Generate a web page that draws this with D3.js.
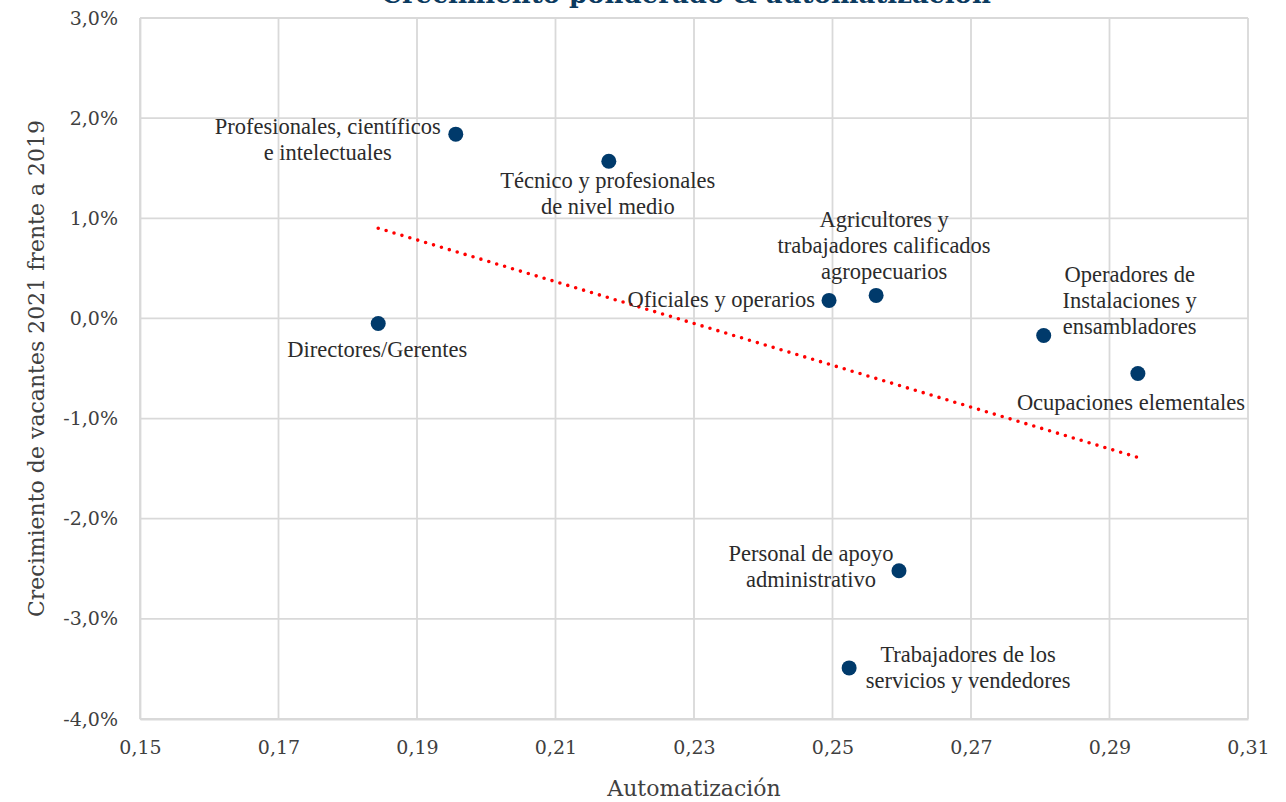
<!DOCTYPE html>
<html>
<head>
<meta charset="utf-8">
<script src="https://cdn.jsdelivr.net/npm/d3@7"></script>
<style>
  html, body { margin: 0; padding: 0; background: #fff; }
  svg { display: block; }
</style>
</head>
<body>
<svg id="chart" width="1286" height="802"></svg>
<script>
// Occupational groups: automation exposure vs. growth of job vacancies 2021 vs 2019
const categories = [
  "Directores/Gerentes",
  "Profesionales, científicos e intelectuales",
  "Técnico y profesionales de nivel medio",
  "Oficiales y operarios",
  "Agricultores y trabajadores calificados agropecuarios",
  "Operadores de Instalaciones y ensambladores",
  "Ocupaciones elementales",
  "Personal de apoyo administrativo",
  "Trabajadores de los servicios y vendedores"
];
const automatizacion = [0.1844, 0.1956, 0.2177, 0.2495, 0.2563, 0.2805, 0.2941, 0.2596, 0.2524];
const crecimiento    = [-0.0005, 0.0184, 0.0157, 0.0018, 0.0023, -0.0017, -0.0055, -0.0252, -0.0349];

const xTicks = [0.15, 0.17, 0.19, 0.21, 0.23, 0.25, 0.27, 0.29, 0.31];
const yTicks = [-0.04, -0.03, -0.02, -0.01, 0, 0.01, 0.02, 0.03];

// Label text lines and placement relative to each marker (px)
const labelLines = [
  ["Directores/Gerentes"],
  ["Profesionales, científicos", "e intelectuales"],
  ["Técnico y profesionales", "de nivel medio"],
  ["Oficiales y operarios"],
  ["Agricultores y", "trabajadores calificados", "agropecuarios"],
  ["Operadores de", "Instalaciones y", "ensambladores"],
  ["Ocupaciones elementales"],
  ["Personal de apoyo", "administrativo"],
  ["Trabajadores de los", "servicios y vendedores"]
];
const labelLayout = [
  { anchor: "middle", dx: -1,   dy: 34 },
  { anchor: "middle", dx: -128, dy: 0 },
  { anchor: "middle", dx: -1,   dy: 27 },
  { anchor: "end",    dx: -14,  dy: 7 },
  { anchor: "middle", dx: 8,    dy: -68 },
  { anchor: "middle", dx: 86,   dy: -53 },
  { anchor: "middle", dx: -7,   dy: 36 },
  { anchor: "middle", dx: -88,  dy: -10 },
  { anchor: "middle", dx: 119,  dy: -6 }
];

const svg = d3.select("#chart");
const margin = { left: 140, right: 1286 - 1248, top: 18, bottom: 802 - 719 };
const W = 1286, H = 802;

const x = d3.scaleLinear().domain([0.15, 0.31]).range([margin.left, W - margin.right]);
const y = d3.scaleLinear().domain([-0.04, 0.03]).range([H - margin.bottom, margin.top]);

const fmtX = v => d3.format(".2f")(v).replace(".", ",");
const fmtY = v => d3.format(".1f")(v * 100).replace(".", ",").replace("−", "-") + "%";

const gridColor = "#d9d9d9";
const axisFont = "'DejaVu Serif', Cambria, serif";
const labelFont = "'Liberation Serif', 'Times New Roman', serif";

// Gridlines
svg.append("g")
  .selectAll("line.vg")
  .data(xTicks)
  .join("line")
  .attr("x1", d => x(d)).attr("x2", d => x(d))
  .attr("y1", y(0.03)).attr("y2", y(-0.04))
  .attr("stroke", gridColor).attr("stroke-width", 1.8);

svg.append("g")
  .selectAll("line.hg")
  .data(yTicks)
  .join("line")
  .attr("x1", x(0.15)).attr("x2", x(0.31))
  .attr("y1", d => y(d)).attr("y2", d => y(d))
  .attr("stroke", gridColor).attr("stroke-width", 1.8);

// Axes (labels only; lines drawn via gridlines)
const xAxis = svg.append("g")
  .attr("transform", `translate(0,${y(-0.04)})`)
  .call(d3.axisBottom(x).tickValues(xTicks).tickFormat(fmtX).tickSize(0).tickPadding(22));
const yAxis = svg.append("g")
  .attr("transform", `translate(${x(0.15)},0)`)
  .call(d3.axisLeft(y).tickValues(yTicks).tickFormat(fmtY).tickSize(0).tickPadding(22));
[xAxis, yAxis].forEach(g => {
  g.select(".domain").attr("stroke", gridColor).attr("stroke-width", 1.8);
  g.selectAll("text")
    .attr("font-family", axisFont)
    .attr("font-size", 19)
    .attr("fill", "#404040");
});

// Axis titles
svg.append("text")
  .attr("x", (x(0.15) + x(0.31)) / 2)
  .attr("y", 796)
  .attr("text-anchor", "middle")
  .attr("font-family", axisFont)
  .attr("font-size", 22)
  .attr("fill", "#404040")
  .text("Automatización");

svg.append("text")
  .attr("transform", `translate(44,${(y(0.03) + y(-0.04)) / 2}) rotate(-90)`)
  .attr("text-anchor", "middle")
  .attr("font-family", axisFont)
  .attr("font-size", 22)
  .attr("fill", "#404040")
  .text("Crecimiento de vacantes 2021 frente a 2019");

// Chart title (sits above the drawing area, only its lower edge shows)
svg.append("text")
  .attr("x", 686)
  .attr("y", 3)
  .attr("text-anchor", "middle")
  .attr("font-family", axisFont)
  .attr("font-weight", "bold")
  .attr("font-size", 26)
  .attr("fill", "#0b3a5f")
  .text("Crecimiento ponderado & automatización");

// Linear trendline (least squares)
const n = automatizacion.length;
const mx = d3.mean(automatizacion), my = d3.mean(crecimiento);
let sxy = 0, sxx = 0;
for (let i = 0; i < n; i++) {
  sxy += (automatizacion[i] - mx) * (crecimiento[i] - my);
  sxx += (automatizacion[i] - mx) ** 2;
}
const slope = sxy / sxx, intercept = my - slope * mx;
const [xmin, xmax] = d3.extent(automatizacion);
svg.append("line")
  .attr("x1", x(xmin)).attr("y1", y(intercept + slope * xmin))
  .attr("x2", x(xmax)).attr("y2", y(intercept + slope * xmax))
  .attr("stroke", "#ff0000")
  .attr("stroke-width", 3.6)
  .attr("stroke-linecap", "round")
  .attr("stroke-dasharray", "0 8.25");

// Markers
const pts = categories.map((c, i) => ({ c, x: automatizacion[i], y: crecimiento[i], i }));
svg.append("g")
  .selectAll("circle")
  .data(pts)
  .join("circle")
  .attr("cx", d => x(d.x))
  .attr("cy", d => y(d.y))
  .attr("r", 7.5)
  .attr("fill", "#003a6b");

// Data labels
const lineH = 26;
const labels = svg.append("g")
  .attr("font-family", labelFont)
  .attr("font-size", 22.5)
  .attr("fill", "#2b2b2b");
pts.forEach(d => {
  const L = labelLayout[d.i];
  const lines = labelLines[d.i];
  const t = labels.append("text")
    .attr("text-anchor", L.anchor)
    .attr("x", x(d.x) + L.dx)
    .attr("y", y(d.y) + L.dy);
  lines.forEach((ln, k) => {
    t.append("tspan")
      .attr("x", x(d.x) + L.dx)
      .attr("dy", k === 0 ? 0 : lineH)
      .text(ln);
  });
});
</script>
</body>
</html>
